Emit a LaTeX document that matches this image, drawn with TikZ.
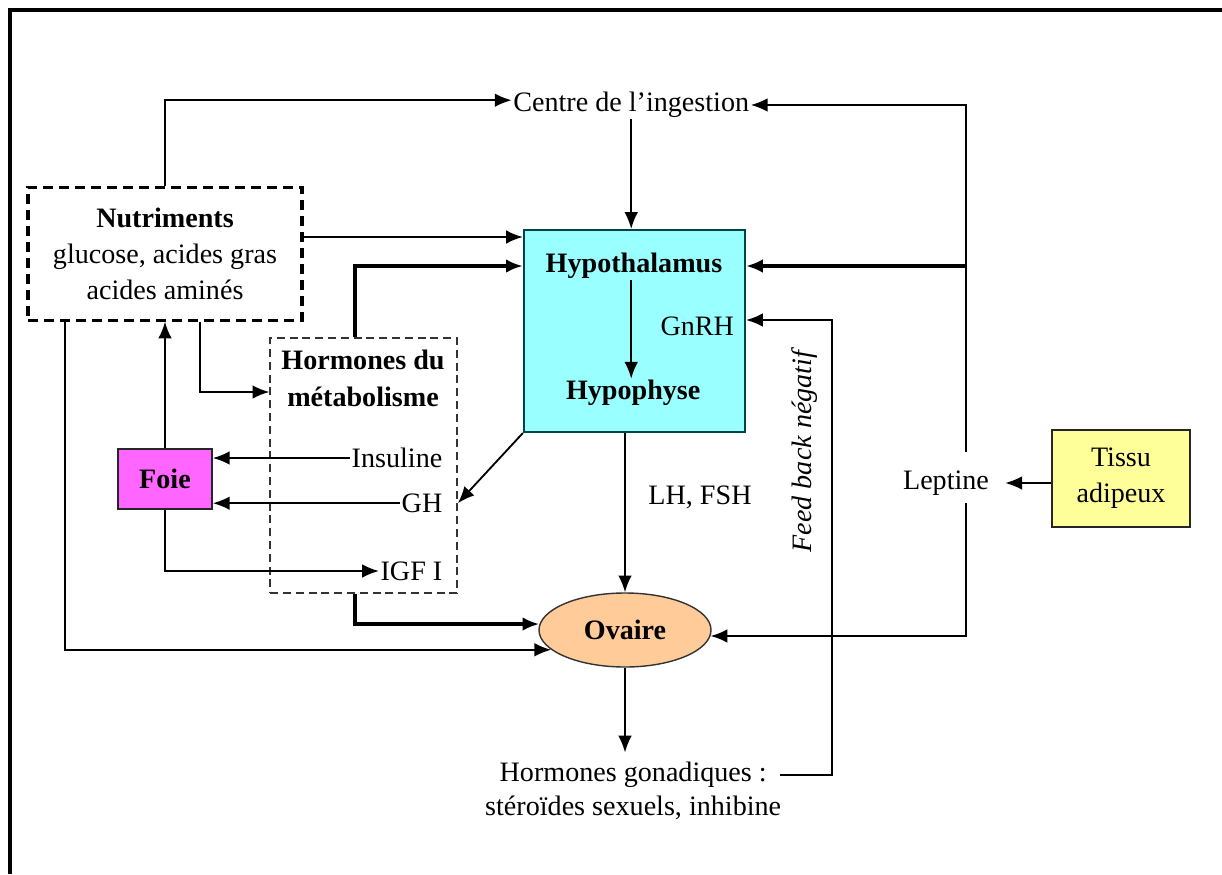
\documentclass[tikz,border=0pt]{standalone}
\usepackage{fontspec}
\setmainfont{Liberation Serif}
\usetikzlibrary{positioning,arrows.meta,shapes.geometric}

\definecolor{hypcol}{RGB}{153,255,255}
\definecolor{foiecol}{RGB}{255,102,255}
\definecolor{ovcol}{RGB}{255,204,153}
\definecolor{tiscol}{RGB}{255,255,153}
\definecolor{hypline}{RGB}{0,70,70}

\tikzset{
  every node/.style={font=\fontsize{20}{25.6}\selectfont, inner sep=1pt},
  arr/.style={-{Latex[length=4.2mm,width=3.4mm]}, line width=1.3pt},
  tarr/.style={arr, line width=2.6pt},
  nutbox/.style={draw, line width=2.2pt, dash pattern=on 0.25cm off 0.15cm,
    align=center, minimum width=6.85cm, minimum height=3.325cm},
  hormbox/.style={draw=black!80, line width=1.1pt, dash pattern=on 0.2cm off 0.12cm,
    minimum width=4.675cm, minimum height=6.375cm},
  colbox/.style={draw=black!85, line width=1.2pt, align=center}
}

\begin{document}
\begin{tikzpicture}
  \useasboundingbox (0,0) rectangle (30.55,-21.85);
  % frame
  \draw[line width=2.2pt] (0.25,-21.85) -- (0.25,-0.25) -- (30.55,-0.25);

  % main boxes
  \node (centre) at (15.78,-2.625) {Centre de l'ingestion};
  \node[draw=hypline, fill=hypcol, line width=1.5pt, minimum width=5.525cm,
        minimum height=5.05cm] (hypo) at (15.86,-8.275) {};
  \node[font=\fontsize{20}{25.6}\selectfont\bfseries] (hyt) at (15.85,-6.65) {Hypothalamus};
  \node (gnrh) at (17.43,-8.15) {GnRH};
  \node[font=\fontsize{20}{25.6}\selectfont\bfseries] (hyp) at (15.83,-9.83) {Hypophyse};

  \node[nutbox] (nutri) at (4.125,-6.34)
    {\textbf{Nutriments}\\glucose, acides gras\\acides aminés};

  \node[hormbox] (horm) at (9.09,-11.64) {};
  \node[align=center, font=\fontsize{20}{26}\selectfont\bfseries] (htit) at (9.075,-9.46)
    {Hormones du\\métabolisme};
  \node[anchor=east] (ins) at (11.1,-11.45) {Insuline};
  \node[anchor=east] (gh) at (11.1,-12.58) {GH};
  \node[anchor=east] (igf) at (11.1,-14.275) {IGF I};

  \node[colbox, fill=foiecol, minimum width=2.35cm, minimum height=1.5cm,
        font=\fontsize{20}{25.6}\selectfont\bfseries] (foie) at (4.125,-11.975) {Foie};

  \node[ellipse, draw=black!80, line width=1pt, fill=ovcol, minimum width=4.3cm,
        minimum height=1.85cm, font=\fontsize{20}{25.6}\selectfont\bfseries] (ovaire) at (15.625,-15.75) {Ovaire};

  \node (gon1) at (15.83,-19.375) {Hormones gonadiques :};
  \node (gon2) at (15.83,-20.2) {stéroïdes sexuels, inhibine};

  \node (lhfsh) at (17.5,-12.43) {LH, FSH};
  \node[rotate=90] (fbt) at (20.125,-11.25) {\textit{Feed back négatif}};

  \node[inner xsep=0.4cm] (lep) at (23.65,-12.075) {Leptine};
  \node[colbox, fill=tiscol, minimum width=3.45cm, minimum height=2.425cm] (tis)
    at (28.025,-11.96) {Tissu\\adipeux};

  \coordinate (lepup) at (24.15,-11.3);
  \coordinate (lepdn) at (24.15,-12.575);
  \coordinate (fbk) at (20.8,-8.0);

  % connectors
  \draw[arr] (nutri.north) |- ([yshift=0.12cm]centre.west);
  \draw[arr] (lepup) |- (centre.east);
  \draw[arr] (centre.south) -- (centre.south |- hypo.north);
  \draw[arr] (hyt.south -| 15.78,0) -- (hyp.north -| 15.78,0);
  \draw[arr] ([yshift=0.415cm]nutri.east) -- ([yshift=0.415cm]nutri.east -| hypo.west);
  \draw[tarr] ([xshift=-0.215cm]horm.north) |- (hypo.west |- hyt);
  \draw[tarr] (lepup |- hyt) -- (hypo.east |- hyt);
  \draw[arr] ([xshift=0.875cm]nutri.south) |- ([yshift=1.84cm]horm.west);
  \draw[arr] ([xshift=-2.5cm]nutri.south) |- (ovaire.195);
  \draw[arr] (foie.north) -- (foie.north |- nutri.south);
  \draw[arr] (ins.west) -- (ins.west -| foie.east);
  \draw[arr] (gh.west) -- (gh.west -| foie.east);
  \draw[arr] (foie.south) |- (igf.west);
  \draw[arr] (hypo.south west) -- (horm.east |- gh);
  \draw[tarr] ([xshift=-0.215cm]horm.south) |- (ovaire.176);
  \draw[arr] (ovaire.north |- hypo.south) -- (ovaire.north);
  \draw[arr] (ovaire.south) -- ([yshift=0.2cm]ovaire.south |- gon1.north);
  \draw[arr] (lepdn) |- (ovaire.-4);
  \draw[arr] (lep.east -| tis.west) -- (lep.east);
  % feed back
  \draw[arr, line width=1.6pt] ([xshift=0.3cm]gon1.east) -| (fbk) -- (fbk -| hypo.east);
\end{tikzpicture}
\end{document}
